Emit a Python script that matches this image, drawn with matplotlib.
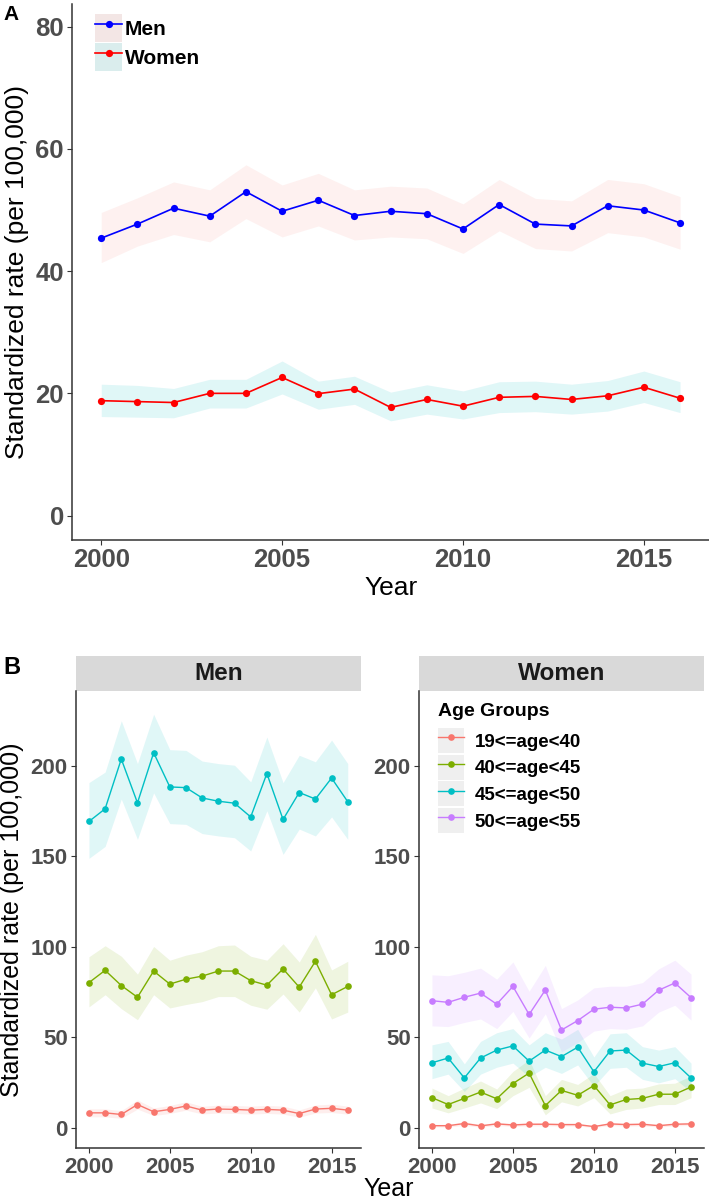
import matplotlib
matplotlib.use('Agg')
import matplotlib.pyplot as plt
from matplotlib.patches import Patch, Rectangle
from matplotlib.lines import Line2D
from matplotlib.legend_handler import HandlerTuple

plt.rcParams['font.family'] = ['Liberation Sans', 'DejaVu Sans']

# ---- data ----
years = list(range(2000, 2017))

# panel A: overall standardized rate by sex
men_rate = [45.4, 47.7, 50.3, 49.0, 53.0, 49.8, 51.6, 49.1, 49.8, 49.4, 46.9, 50.9, 47.7, 47.4, 50.7, 50.0, 47.9]
men_lo = [41.4, 44.1, 46.0, 44.8, 48.6, 45.6, 47.4, 45.1, 45.6, 45.3, 42.9, 46.6, 43.7, 43.3, 46.3, 45.6, 43.6]
men_hi = [49.6, 52.0, 54.6, 53.3, 57.4, 54.1, 56.0, 53.3, 53.9, 53.6, 51.0, 55.0, 51.9, 51.5, 55.0, 54.3, 52.2]
women_rate = [18.8, 18.65, 18.5, 20.0, 20.0, 22.6, 19.95, 20.7, 17.7, 19.0, 17.9, 19.35, 19.5, 19.0, 19.6, 21.0, 19.2]
women_lo = [16.2, 16.1, 16.0, 17.6, 17.6, 19.9, 17.4, 18.2, 15.5, 16.6, 15.8, 16.85, 17.0, 16.6, 17.1, 18.5, 16.85]
women_hi = [21.5, 21.3, 20.8, 22.3, 22.3, 25.3, 22.0, 22.8, 20.2, 21.4, 20.4, 21.9, 22.0, 21.5, 22.1, 23.65, 21.9]

# panel B: by age group
age_groups = ['19<=age<40', '40<=age<45', '45<=age<50', '50<=age<55']
group_colors = ['#F8766D', '#7CAE00', '#00BFC4', '#C77CFF']

men_19_40 = [8.2, 8.2, 7.3, 12.8, 8.8, 10.1, 12.0, 9.7, 10.3, 10.1, 9.7, 10.1, 9.7, 7.8, 10.3, 10.7, 9.7]
men_19_40_lo = [6.0, 6.0, 5.2, 10.3, 6.7, 7.9, 9.7, 7.6, 8.1, 7.9, 7.5, 7.9, 7.5, 5.8, 8.1, 8.4, 7.5]
men_19_40_hi = [10.4, 10.4, 9.4, 15.3, 10.9, 12.3, 14.3, 11.8, 12.5, 12.3, 11.9, 12.3, 11.9, 9.8, 12.5, 13.0, 11.9]
men_40_45 = [80.2, 87.0, 78.6, 72.1, 86.6, 79.4, 82.1, 83.8, 86.6, 86.6, 81.3, 78.8, 87.8, 77.7, 92.0, 73.5, 78.1]
men_40_45_lo = [66.8, 73.5, 65.8, 59.7, 73.5, 66.2, 68.1, 69.7, 72.5, 72.5, 67.7, 65.5, 73.9, 63.9, 77.3, 60.1, 63.9]
men_40_45_hi = [94.5, 100.6, 94.8, 84.9, 100.2, 92.6, 95.4, 97.3, 100.6, 101.0, 94.8, 92.6, 101.7, 91.6, 106.9, 87.2, 92.0]
men_45_50 = [169.3, 176.3, 203.8, 179.6, 207.3, 188.4, 188.0, 182.3, 180.5, 179.4, 171.8, 195.8, 170.4, 185.3, 181.7, 193.3, 180.2]
men_45_50_lo = [148.9, 155.5, 181.7, 159.4, 185.1, 168.1, 167.7, 162.6, 161.3, 160.3, 153.0, 175.2, 151.1, 165.1, 161.3, 171.8, 159.4]
men_45_50_hi = [190.8, 196.6, 225.0, 201.3, 228.6, 209.0, 208.6, 202.7, 201.3, 200.4, 191.2, 216.0, 190.8, 205.9, 202.3, 214.3, 201.3]

women_19_40 = [1.1, 1.1, 2.3, 1.0, 2.1, 1.5, 1.9, 1.9, 1.7, 1.7, 0.6, 2.1, 1.7, 1.9, 1.1, 1.9, 2.1]
women_19_40_lo = [0.4, 0.4, 1.3, 0.3, 1.2, 0.7, 1.0, 1.0, 0.9, 0.9, 0.1, 1.2, 0.9, 1.0, 0.4, 1.0, 1.2]
women_19_40_hi = [1.8, 1.8, 3.3, 1.7, 3.0, 2.3, 2.8, 2.8, 2.5, 2.5, 1.1, 3.0, 2.5, 2.8, 1.8, 2.8, 3.0]
women_40_45 = [16.6, 12.8, 16.2, 19.7, 16.0, 24.4, 30.2, 12.2, 20.6, 17.9, 23.3, 12.6, 15.6, 16.2, 18.5, 18.5, 22.5]
women_40_45_lo = [10.9, 8.2, 10.9, 13.7, 10.5, 17.7, 22.3, 7.1, 14.3, 12.0, 16.6, 7.6, 10.1, 10.9, 12.8, 12.8, 16.6]
women_40_45_hi = [21.9, 17.7, 21.9, 25.8, 21.4, 31.1, 37.6, 17.7, 26.7, 23.9, 30.0, 17.7, 21.4, 21.9, 24.2, 24.6, 28.6]
women_45_50 = [35.9, 38.5, 27.5, 38.5, 42.9, 45.2, 36.8, 42.9, 39.3, 44.5, 30.9, 42.4, 42.9, 35.7, 33.8, 35.9, 27.5]
women_45_50_lo = [27.1, 29.6, 20.0, 29.6, 33.4, 35.7, 28.1, 33.4, 30.0, 34.7, 22.9, 32.8, 33.4, 26.7, 24.8, 27.1, 19.7]
women_45_50_hi = [45.8, 47.7, 35.3, 47.7, 52.5, 54.8, 45.8, 52.5, 49.0, 54.4, 39.1, 51.9, 52.5, 44.8, 42.9, 44.8, 35.7]
women_50_55 = [70.2, 69.3, 72.1, 74.4, 68.3, 78.1, 62.6, 76.1, 54.0, 59.2, 65.5, 66.6, 66.2, 68.3, 76.0, 80.0, 71.9]
women_50_55_lo = [56.3, 55.9, 58.2, 60.1, 54.8, 64.3, 49.6, 63.0, 42.0, 47.1, 53.4, 54.8, 54.4, 56.3, 63.9, 67.7, 59.5]
women_50_55_hi = [84.5, 84.0, 85.9, 88.2, 82.1, 91.6, 75.4, 89.7, 65.8, 70.6, 77.3, 78.2, 78.2, 80.2, 87.8, 92.6, 84.9]

men_groups = [(men_19_40, men_19_40_lo, men_19_40_hi, 0),
              (men_40_45, men_40_45_lo, men_40_45_hi, 1),
              (men_45_50, men_45_50_lo, men_45_50_hi, 2)]
women_groups = [(women_19_40, women_19_40_lo, women_19_40_hi, 0),
                (women_40_45, women_40_45_lo, women_40_45_hi, 1),
                (women_45_50, women_45_50_lo, women_45_50_hi, 2),
                (women_50_55, women_50_55_lo, women_50_55_hi, 3)]

W, H = 709, 1201
TICK_GRAY = '#4D4D4D'
AXIS_COL = '#333333'


def fig_rect(left, top, right, bottom):
    # pixel box -> figure fraction
    return [left / W, 1 - bottom / H, (right - left) / W, (bottom - top) / H]


def style_axes(ax, size, xticks, yticks):
    for s in ['top', 'right']:
        ax.spines[s].set_visible(False)
    for s in ['left', 'bottom']:
        ax.spines[s].set_color(AXIS_COL)
        ax.spines[s].set_linewidth(1.1)
    ax.set_xticks(xticks)
    ax.set_yticks(yticks)
    ax.tick_params(length=3.5, width=0.8, color=AXIS_COL, labelsize=size,
                   labelcolor=TICK_GRAY, pad=2.5)
    plt.setp(ax.get_xticklabels() + ax.get_yticklabels(), fontweight='bold')


fig = plt.figure(figsize=(W / 100, H / 100), dpi=100)

# ---- panel A ----
axA = fig.add_axes(fig_rect(72.3, 3.5, 709, 540))
axA.fill_between(years, men_lo, men_hi, color='#F8766D', alpha=0.1, lw=0)
axA.fill_between(years, women_lo, women_hi, color='#00BFC4', alpha=0.12, lw=0)
axA.plot(years, men_rate, color='blue', marker='o', ms=5.2, mew=0, lw=1.2)
axA.plot(years, women_rate, color='red', marker='o', ms=5.2, mew=0, lw=1.2)
axA.set_xlim(1999.2, 2016.8)
axA.set_ylim(-4.0, 83.8)
style_axes(axA, 18.5, [2000, 2005, 2010, 2015], [0, 20, 40, 60, 80])
axA.set_ylabel('Standardized rate (per 100,000)', fontsize=19, va='center')
axA.yaxis.set_label_coords(-0.087, 0.5)
axA.set_xlabel('Year', fontsize=19, va='center')
axA.xaxis.set_label_coords(0.5, -0.0895)

handles_a = [(Patch(facecolor='#F3E6E5', edgecolor='none'),
              Line2D([], [], color='blue', marker='o', ms=5.2, mew=0, lw=1.2)),
             (Patch(facecolor='#DAEDED', edgecolor='none'),
              Line2D([], [], color='red', marker='o', ms=5.2, mew=0, lw=1.2))]
axA.legend(handles_a, ['Men', 'Women'], handler_map={tuple: HandlerTuple(ndivide=1, pad=0)},
           loc='upper left', bbox_to_anchor=(0.0357, 0.9804), borderaxespad=0, borderpad=0,
           frameon=False, handlelength=1.3, handleheight=1.69, handletextpad=0.12,
           labelspacing=0.05, prop={'weight': 'bold', 'size': 15})

fig.text(11 / W, 1 - 14 / H, 'A', fontsize=15, fontweight='bold', ha='center', va='center')

# ---- panel B ----
axM = fig.add_axes(fig_rect(76, 690.7, 360.7, 1148.3))
axW = fig.add_axes(fig_rect(419, 690.7, 704, 1148.3))

for ax, groups, title in [(axM, men_groups, 'Men'), (axW, women_groups, 'Women')]:
    for vals, lo, hi, gi in groups:
        ax.fill_between(years, lo, hi, color=group_colors[gi], alpha=0.12, lw=0)
    for vals, lo, hi, gi in groups:
        ax.plot(years, vals, color=group_colors[gi], marker='o', ms=4.8, mew=0, lw=1.0)
    ax.set_xlim(1999.2, 2016.8)
    ax.set_ylim(-11.4, 241.6)
    style_axes(ax, 16, [2000, 2005, 2010, 2015], [0, 50, 100, 150, 200])
    strip_h = 35 / 457.6
    ax.add_patch(Rectangle((0, 1), 1, strip_h, transform=ax.transAxes, clip_on=False,
                           facecolor='#D9D9D9', edgecolor='none'))
    ax.text(0.5, 1 + strip_h / 2, title, transform=ax.transAxes, ha='center', va='center',
            fontsize=17.5, fontweight='bold', color='#1A1A1A')

axM.set_ylabel('Standardized rate (per 100,000)', fontsize=18, va='center')
axM.yaxis.set_label_coords(-0.225, 0.5)
fig.text(389 / W, 1 - 1196 / H, 'Year', fontsize=18, ha='center', va='baseline')

# age group legend: title drawn separately so the gap below it matches
fig.text(438 / W, 1 - 716 / H, 'Age Groups', fontsize=14, fontweight='bold', ha='left', va='baseline')
handles_b = [(Patch(facecolor='#EFEFEF', edgecolor='none'),
              Line2D([], [], color=c, marker='o', ms=4.8, mew=0, lw=1.0)) for c in group_colors]
axW.legend(handles_b, age_groups, handler_map={tuple: HandlerTuple(ndivide=1, pad=0)},
           loc='upper left', bbox_to_anchor=(0.0667, 0.9185),
           borderaxespad=0, borderpad=0, frameon=False, handlelength=1.36,
           handleheight=1.674, handletextpad=0.59, labelspacing=0.09,
           prop={'weight': 'bold', 'size': 13.5})

fig.text(11.7 / W, 1 - 668 / H, 'B', fontsize=17, fontweight='bold', ha='center', va='center')

fig.savefig('out.png', dpi=100)
